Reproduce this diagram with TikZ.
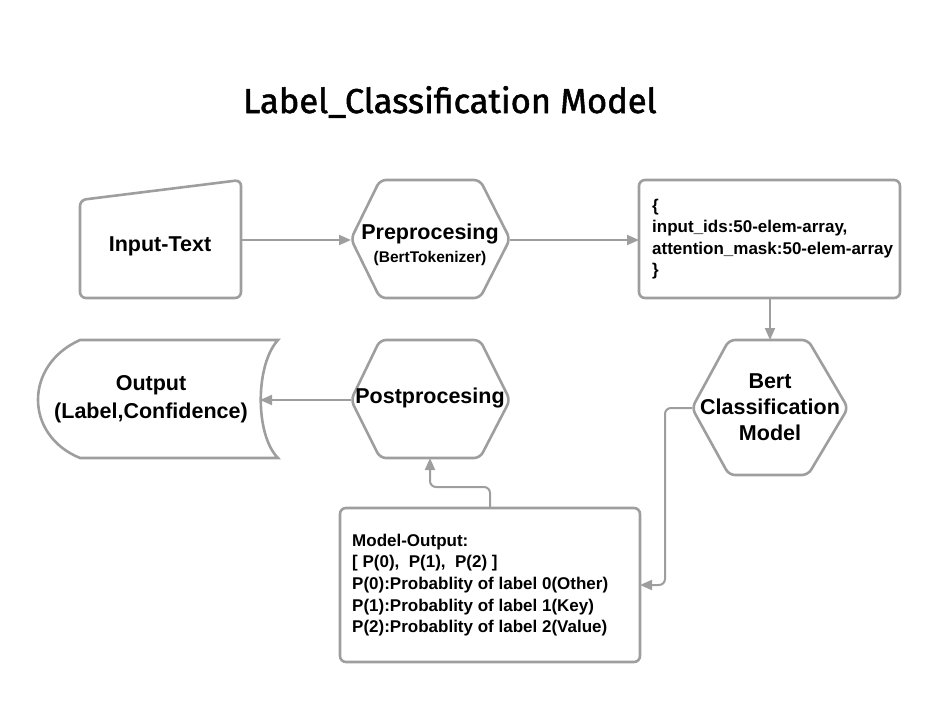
\documentclass[tikz,border=0pt]{standalone}
\usepackage{fontspec}
\setmainfont{Liberation Sans}
\newfontfamily\titlefont[FakeBold=1.5]{Fira Sans}
\usetikzlibrary{arrows.meta}
\definecolor{linegray}{RGB}{158,158,158}
\tikzset{
  shapeline/.style={draw=linegray, line width=2.6pt, rounded corners=6pt},
  arr/.style={draw=linegray, line width=2pt, -{Triangle[length=12pt,width=10pt]}},
  bigtxt/.style={font=\bfseries\fontsize{21.5}{26}\selectfont, align=center, inner sep=0pt},
  smalltxt/.style={font=\bfseries\fontsize{17}{21.6}\selectfont, align=left, inner sep=0pt},
}
\begin{document}
\begin{tikzpicture}[x=1pt,y=-1pt]
\useasboundingbox (0,0) rectangle (940,702);
% title
\node[anchor=base, inner sep=0pt, font=\titlefont\fontsize{34.5}{40}\selectfont] (title) at (450,113) {Label\_Classification Model};

% Input-Text (manual input)
\draw[shapeline] (80,200) -- (241,180) -- (241,298) -- (80,298) -- cycle;
\node[bigtxt] (input) at (160,246) {Input-Text};
\coordinate (in-e) at (241,240);

% Preprocessing hexagon
\draw[shapeline] (351,239) -- (380,180) -- (480,180) -- (510,239) -- (480,298) -- (380,298) -- cycle;
\node[bigtxt] (pre) at (430,234) {Preprocesing};
\node[font=\bfseries\fontsize{15.5}{18}\selectfont, inner sep=0pt] (pretok) at (430,258) {(BertTokenizer)};
\coordinate (pre-w) at (351,240);
\coordinate (pre-e) at (510,240);

% struct box
\draw[shapeline] (639,180) rectangle (900,298);
\node[smalltxt, anchor=west] (struct) at (652,239) {\{\\input\_ids:50-elem-array,\\attention\_mask:50-elem-array\\\}};
\coordinate (st-w) at (639,240);
\coordinate (st-s) at (770,298);

% Bert hexagon
\draw[shapeline] (692,408) -- (729,340) -- (808,340) -- (848,408) -- (808,475) -- (729,475) -- cycle;
\node[bigtxt, font=\bfseries\fontsize{21.5}{26}\selectfont] (bert) at (770,407) {Bert\\Classification\\Model};
\coordinate (bert-n) at (770,340);
\coordinate (bert-w) at (692,408);

% Postprocessing hexagon
\draw[shapeline] (351,400) -- (380,340) -- (480,340) -- (510,400) -- (480,458) -- (380,458) -- cycle;
\node[bigtxt] (post) at (430,398) {Postprocesing};
\coordinate (post-w) at (351,400);
\coordinate (post-s) at (430,458);

% Output (stored data)
\draw[draw=linegray, line width=2.6pt] (80,340) -- (278,340) .. controls (255,365) and (255,435) .. (278,458) -- (80,458) .. controls (24,435) and (24,365) .. (80,340) -- cycle;
\node[bigtxt, font=\bfseries\fontsize{21.5}{28}\selectfont] (out) at (151,399) {Output\\(Label,Confidence)};
\coordinate (out-e) at (260,400);

% Model-output box
\draw[shapeline] (340,508) rectangle (640,662);
\node[smalltxt, anchor=west] (mo) at (352,585) {Model-Output:\\{[} P(0),\ \ P(1),\ \ P(2) ]\\P(0):Probablity of label 0(Other)\\P(1):Probablity of label 1(Key)\\P(2):Probablity of label 2(Value)};
\coordinate (mo-n) at (490,508);
\coordinate (mo-e) at (640,585);

% connectors
\draw[arr] (in-e) -- (pre-w);
\draw[arr] (pre-e) -- (st-w);
\draw[arr] (st-s) -- (bert-n);
\draw[arr] (post-w) -- (out-e);
\draw[arr, rounded corners=6pt] (mo-n) -- ++(0,-21) -| (post-s);
\draw[arr, rounded corners=6pt] (bert-w) -- ++(-27,0) |- (mo-e);
\end{tikzpicture}
\end{document}
